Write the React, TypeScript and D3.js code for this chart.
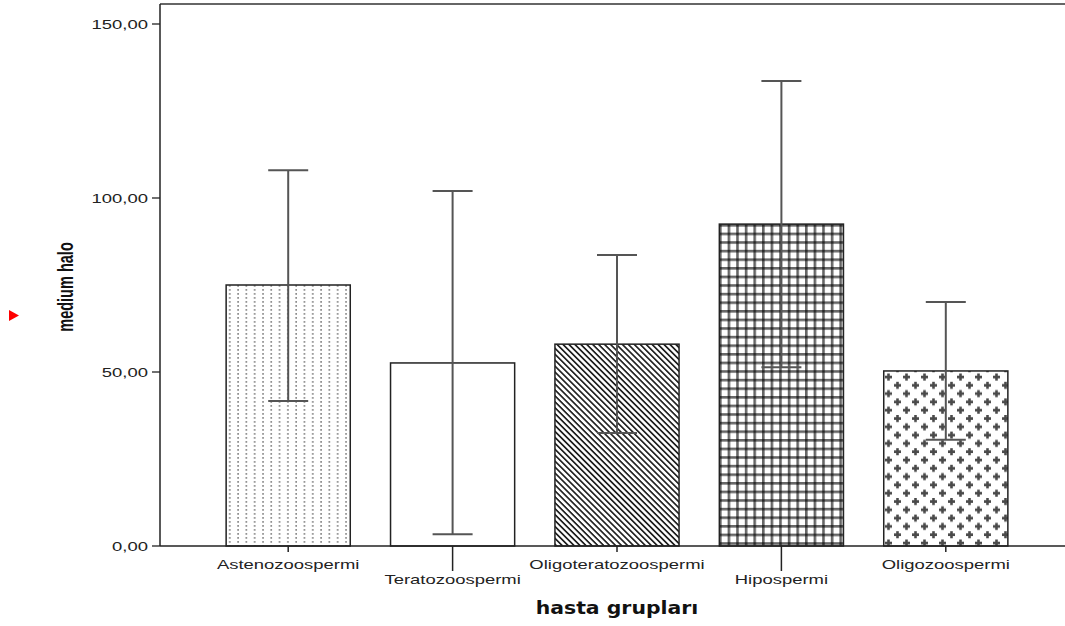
import React from "react";
import * as d3 from "d3";

const categories = ["Astenozoospermi", "Teratozoospermi", "Oligoteratozoospermi", "Hipospermi", "Oligozoospermi"];
const means = [75.0, 52.6, 58.0, 92.5, 50.3];
const errLow = [41.7, 3.4, 32.5, 51.4, 30.5];
const errHigh = [108.0, 102.0, 83.6, 133.6, 70.1];
const yTicks = [0, 50, 100, 150];
const patterns = ["dots", "none", "diag", "grid", "plus"];

const W = 1065, H = 626;
const left = 160, top = 4, bottom = 546, right = 1065;
const SX = 1.42;
const labelFont = "Liberation Sans, Arial, sans-serif";

export default function App() {
  const y = d3.scaleLinear().domain([0, 150]).range([bottom, 24]);
  const x = d3.scaleBand<string>().domain(categories).range([206, 1028]).paddingInner(0.245).paddingOuter(0.1225);
  const bw = x.bandwidth();
  const fmt = (v: number) => d3.format(".2f")(v).replace(".", ",");
  const fill = (p: string) => (p === "none" ? "#fff" : `url(#p-${p})`);
  const plus = (cx: number, cy: number) => `M${cx - 3.5} ${cy - 1.3}h7v2.6h-7z M${cx - 1.3} ${cy - 3.5}h2.6v7h-2.6z`;
  return (
    <svg width={W} height={H} style={{ position: "absolute", left: 0, top: 0, background: "#fff" }}>
      <defs>
        <pattern id="p-dots" width="8.3" height="4" patternUnits="userSpaceOnUse" x={226}>
          <rect width="8.3" height="4" fill="#fff" />
          <rect x="3" y="1" width="1.6" height="1.8" fill="#8a8a8a" />
        </pattern>
        <pattern id="p-diag" width="4.2" height="4.2" patternUnits="userSpaceOnUse" patternTransform="rotate(45)">
          <rect width="4.2" height="4.2" fill="#fff" />
          <rect x="0" y="0" width="4.2" height="1.7" fill="#222" />
        </pattern>
        <pattern id="p-grid" width="8.6" height="8.6" patternUnits="userSpaceOnUse" x={719} y={224}>
          <rect width="8.6" height="8.6" fill="#fff" />
          <rect x="0" y="0" width="2.6" height="8.6" fill="#000" fillOpacity={0.6} />
          <rect x="0" y="0" width="8.6" height="2.6" fill="#000" fillOpacity={0.6} />
        </pattern>
        <pattern id="p-plus" width="18" height="16.6" patternUnits="userSpaceOnUse" x={884} y={373}>
          <rect width="18" height="16.6" fill="#fff" />
          <path d={plus(4.5, 4)} fill="#4a4a4a" />
          <path d={plus(13.5, 12.3)} fill="#4a4a4a" />
          <path d={plus(13.5, -4.3)} fill="#4a4a4a" />
          <path d={plus(-4.5, 12.3)} fill="#4a4a4a" />
          <path d={plus(22.5, 12.3)} fill="#4a4a4a" />
          <path d={plus(4.5, 20.6)} fill="#4a4a4a" />
        </pattern>
      </defs>

      {/* red marker */}
      <path d="M9 310 L19 315.5 L9 321 Z" fill="#ff0000" />

      {/* frame */}
      <line x1={left} x2={right} y1={top} y2={top} stroke="#333" strokeWidth={1.3} />
      <line x1={left} x2={left} y1={top} y2={bottom} stroke="#222" strokeWidth={1.5} />

      {/* bars */}
      {categories.map((c, i) => (
        <rect key={c} x={x(c)!} y={y(means[i])} width={bw} height={bottom - y(means[i])}
          fill={fill(patterns[i])} stroke="#222" strokeWidth={1.5} />
      ))}

      {/* error bars */}
      {categories.map((c, i) => {
        const cx = x(c)! + bw / 2;
        return (
          <g key={c} stroke="#555" strokeWidth={2}>
            <line x1={cx} x2={cx} y1={y(errHigh[i])} y2={y(errLow[i])} />
            <line x1={cx - 20} x2={cx + 20} y1={y(errHigh[i])} y2={y(errHigh[i])} />
            <line x1={cx - 20} x2={cx + 20} y1={y(errLow[i])} y2={y(errLow[i])} />
          </g>
        );
      })}

      <line x1={left} x2={right} y1={bottom} y2={bottom} stroke="#222" strokeWidth={1.5} />

      {/* y ticks */}
      {yTicks.map((t) => (
        <g key={t}>
          <line x1={152} x2={left} y1={y(t)} y2={y(t)} stroke="#222" strokeWidth={1.3} />
          <text transform={`translate(148,${y(t) + 5}) scale(${SX},1)`} textAnchor="end" fontFamily={labelFont} fontSize={13} fill="#222">{fmt(t)}</text>
        </g>
      ))}

      {/* x ticks and labels */}
      {categories.map((c, i) => {
        const cx = x(c)! + bw / 2;
        const long = i % 2 === 1;
        return (
          <g key={c}>
            <line x1={cx} x2={cx} y1={bottom} y2={bottom + (long ? 25 : 6)} stroke="#222" strokeWidth={1.5} />
            <text transform={`translate(${cx},${long ? 584 : 569}) scale(${SX},1)`} textAnchor="middle" fontFamily={labelFont} fontSize={13} fill="#222">{c}</text>
          </g>
        );
      })}

      {/* axis titles */}
      <text transform="translate(617,614) scale(1.2,1)" textAnchor="middle" fontFamily="DejaVu Sans, Verdana, sans-serif" fontWeight="bold" fontSize={17} fill="#111">hasta grupları</text>
      <text transform="translate(73,287) rotate(-90) scale(0.66,1)" textAnchor="middle" fontFamily="Liberation Sans, Arial, sans-serif" fontWeight="bold" fontSize={22} fill="#111">medium halo</text>
    </svg>
  );
}
